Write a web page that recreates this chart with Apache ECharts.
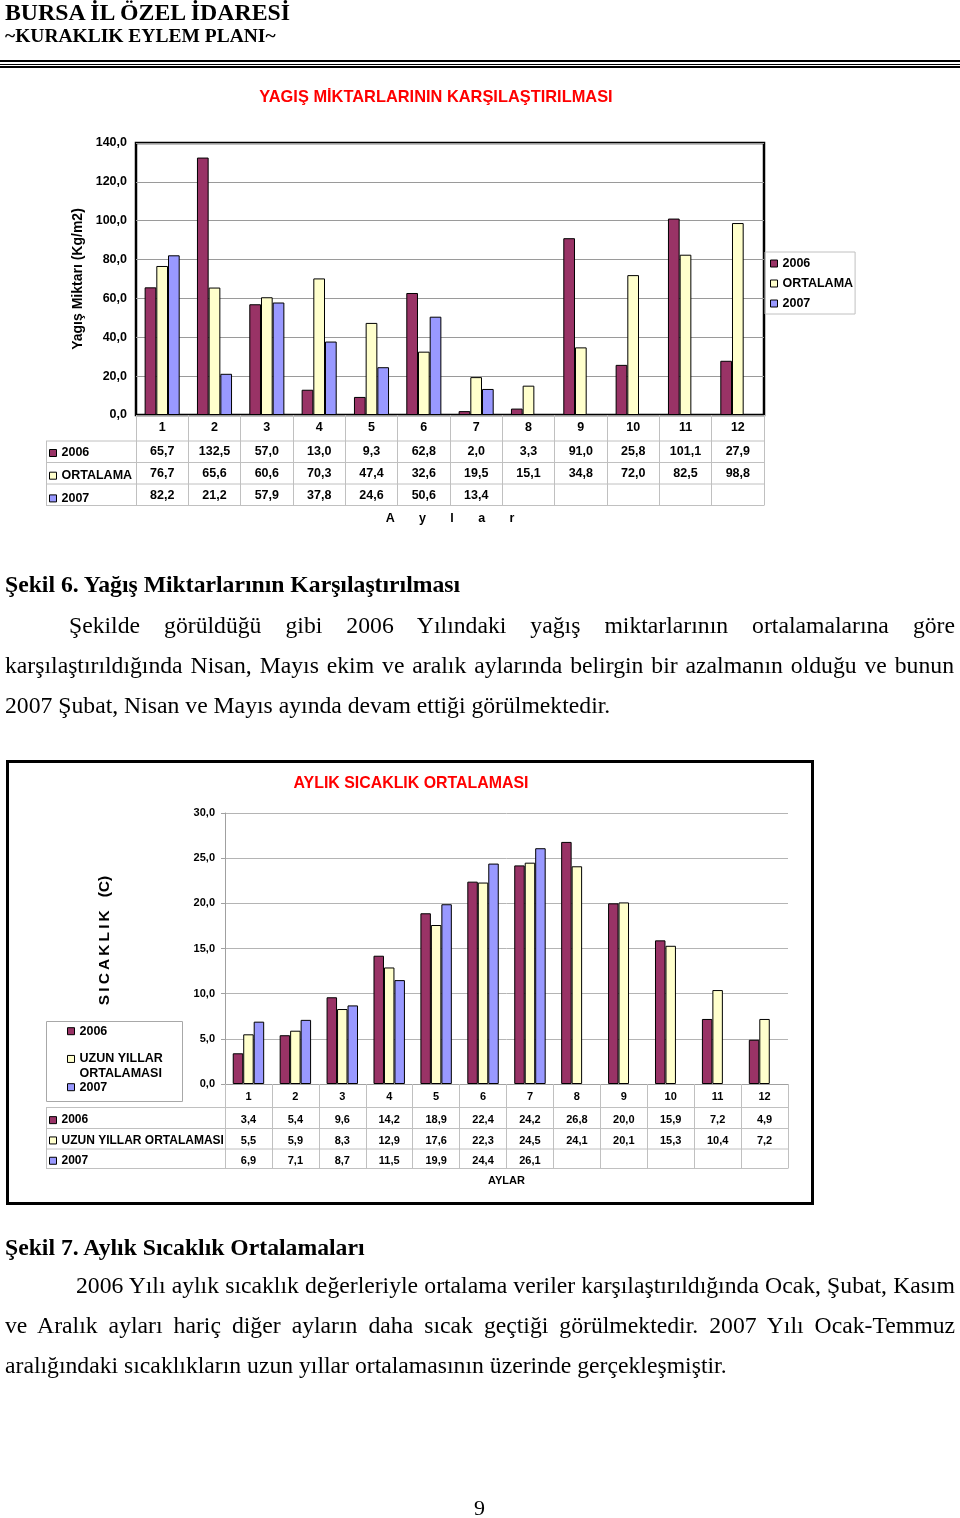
<!DOCTYPE html>
<html>
<head>
<meta charset="utf-8">
<script src="https://cdn.jsdelivr.net/npm/echarts@6/dist/echarts.min.js"></script>
<style>
html,body{margin:0;padding:0;background:#fff;}
#page{position:relative;width:960px;height:1518px;overflow:hidden;background:#fff;}
#chart{position:absolute;left:0;top:0;width:960px;height:1518px;}
.t{position:absolute;white-space:nowrap;font-family:"Liberation Serif","Times New Roman",serif;color:#000;line-height:1;}
.b{font-weight:bold;}
.j{text-align:justify;text-align-last:justify;}
.p{font-size:23.7px;}
.rule{position:absolute;left:0;width:960px;background:#000;}
</style>
</head>
<body>
<div id="page">
  <div id="chart"></div>
  <div class="t b" style="left:5px;top:0.8px;font-size:23.8px;">BURSA İL ÖZEL İDARESİ</div>
  <div class="t b" style="left:5px;top:26.4px;font-size:19.5px;">~KURAKLIK EYLEM PLANI~</div>
  <div class="rule" style="top:60px;height:2px;"></div>
  <div class="rule" style="top:63.5px;height:1px;"></div>
  <div class="rule" style="top:66px;height:2px;"></div>

  <div class="t b p" style="left:5px;top:573.4px;">Şekil 6. Yağış Miktarlarının Karşılaştırılması</div>
  <div class="t j p" style="left:69px;width:886px;top:614.2px;">Şekilde görüldüğü gibi 2006 Yılındaki yağış miktarlarının ortalamalarına göre</div>
  <div class="t j p" style="left:5px;width:949px;top:654.2px;">karşılaştırıldığında Nisan, Mayıs ekim ve aralık aylarında belirgin bir azalmanın olduğu ve bunun</div>
  <div class="t p" style="left:5px;top:693.7px;">2007 Şubat, Nisan ve Mayıs ayında devam ettiği görülmektedir.</div>

  <div class="t b p" style="left:5px;top:1235.9px;">Şekil 7. Aylık Sıcaklık Ortalamaları</div>
  <div class="t j p" style="left:76px;width:879px;top:1273.5px;">2006 Yılı aylık sıcaklık değerleriyle ortalama veriler karşılaştırıldığında Ocak, Şubat, Kasım</div>
  <div class="t j p" style="left:5px;width:950px;top:1314.2px;">ve Aralık ayları hariç diğer ayların daha sıcak geçtiği görülmektedir. 2007 Yılı Ocak-Temmuz</div>
  <div class="t p" style="left:5px;top:1354.2px;">aralığındaki sıcaklıkların uzun yıllar ortalamasının üzerinde gerçekleşmiştir.</div>

  <div class="t" style="left:474px;top:1497px;font-size:22px;">9</div>
</div>
<script>
// ---------- DATA ----------
const months = ['1','2','3','4','5','6','7','8','9','10','11','12'];

const rainNames = ['2006', 'ORTALAMA', '2007'];
const rain2006 = [65.7, 132.5, 57.0, 13.0, 9.3, 62.8, 2.0, 3.3, 91.0, 25.8, 101.1, 27.9];
const rainAvg  = [76.7, 65.6, 60.6, 70.3, 47.4, 32.6, 19.5, 15.1, 34.8, 72.0, 82.5, 98.8];
const rain2007 = [82.2, 21.2, 57.9, 37.8, 24.6, 50.6, 13.4, null, null, null, null, null];
const rainTicks = [0, 20, 40, 60, 80, 100, 120, 140];

const tempNames = ['2006 ', 'UZUN YILLAR ORTALAMASI', '2007 '];
const temp2006 = [3.4, 5.4, 9.6, 14.2, 18.9, 22.4, 24.2, 26.8, 20.0, 15.9, 7.2, 4.9];
const tempAvg  = [5.5, 5.9, 8.3, 12.9, 17.6, 22.3, 24.5, 24.1, 20.1, 15.3, 10.4, 7.2];
const temp2007 = [6.9, 7.1, 8.7, 11.5, 19.9, 24.4, 26.1, null, null, null, null, null];
const tempTicks = [0, 5, 10, 15, 20, 25, 30];

// ---------- LAYOUT / STYLE ----------
const SANS = '"Liberation Sans", Arial, Helvetica, sans-serif';
const C2006 = '#993366', CAVG = '#FFFFCC', C2007 = '#9999FF';
const G1 = {left: 136, top: 143, width: 628, height: 272};
const G2 = {left: 225, top: 813, width: 563, height: 271};
const T1 = {x0: 46, rows: [441, 462.5, 484, 505.5]};
const T2 = {x0: 46, rows: [1107.5, 1128.5, 1149, 1168.5]};

const fmt = v => (v == null ? ' ' : v.toFixed(1).replace('.', ','));

function tableFormatter(a, b, c) {
  return (v, i) => `{h|${v}}\n{v|${fmt(a[i])}}\n{v|${fmt(b[i])}}\n{v|${fmt(c[i])}}`;
}
function txt(size, extra) {
  return Object.assign({fontFamily: SANS, fontWeight: 'bold', fontSize: size, color: '#000'}, extra || {});
}
function bar(name, data, color, idx) {
  return {
    type: 'bar', name, data, xAxisIndex: idx, yAxisIndex: idx,
    barGap: '0%', barCategoryGap: '33%',
    itemStyle: {color, borderColor: '#000', borderWidth: 1},
    emphasis: {disabled: true}
  };
}
function tableLines(T, G) {
  const x2 = G.left + G.width;
  const out = T.rows.map(y => ({
    type: 'line', silent: true,
    shape: {x1: T.x0, y1: y, x2: x2, y2: y},
    style: {stroke: '#c0c0c0', lineWidth: 1}
  }));
  out.push({type: 'line', silent: true,
    shape: {x1: T.x0 + 0.5, y1: T.rows[0], x2: T.x0 + 0.5, y2: T.rows[T.rows.length - 1]},
    style: {stroke: '#c0c0c0', lineWidth: 1}});
  return out;
}
const legendBase = {
  orient: 'vertical', padding: 0, itemWidth: 7, itemHeight: 7, icon: 'rect',
  selectedMode: false, itemStyle: {borderColor: '#000', borderWidth: 1}
};

const chart = echarts.init(document.getElementById('chart'), null, {renderer: 'canvas', width: 960, height: 1518});

const option = {
  animation: false,
  backgroundColor: 'transparent',
  textStyle: {fontFamily: SANS},
  title: [
    {text: 'YAGIŞ MİKTARLARININ KARŞILAŞTIRILMASI', left: 436, top: 89.5, textAlign: 'center', padding: 0,
     textStyle: txt(16.4, {color: '#ff0000'})},
    {text: 'AYLIK SICAKLIK ORTALAMASI', left: 411, top: 776, textAlign: 'center', padding: 0,
     textStyle: txt(15.9, {color: '#ff0000'})}
  ],
  grid: [
    Object.assign({show: true, borderColor: '#000', borderWidth: 2.5, backgroundColor: 'transparent',
                   containLabel: false, outerBoundsMode: 'none'}, G1),
    Object.assign({show: false, containLabel: false, outerBoundsMode: 'none'}, G2)
  ],
  legend: [
    Object.assign({}, legendBase, {id: 'l1', data: rainNames, left: 765, top: 252, padding: [5, 2, 4, 5],
      itemGap: 7, borderColor: '#c0c0c0', borderWidth: 1, textStyle: txt(12.5, {lineHeight: 12.2})}),
    Object.assign({}, legendBase, {id: 't1', data: rainNames, left: 49, top: 446.5, itemGap: 9.7,
      textStyle: txt(12.5, {lineHeight: 12})}),
    Object.assign({}, legendBase, {id: 'l2a', data: [tempNames[0]], left: 67, top: 1024.7,
      textStyle: txt(12.5, {lineHeight: 12})}),
    Object.assign({}, legendBase, {id: 'l2b', data: [tempNames[1]], left: 67, top: 1037.5,
      formatter: n => ' \n' + n.replace(' ORT', '\nORT'),
      textStyle: txt(12.5, {lineHeight: 14.3})}),
    Object.assign({}, legendBase, {id: 'l2c', data: [tempNames[2]], left: 67, top: 1080.7,
      textStyle: txt(12.5, {lineHeight: 12})}),
    Object.assign({}, legendBase, {id: 't2', data: tempNames, left: 49, top: 1114.15, itemGap: 8.3,
      textStyle: txt(12, {lineHeight: 12})})
  ],
  xAxis: [
    {
      type: 'category', gridIndex: 0, data: months,
      axisLine: {show: false},
      axisTick: {show: true, length: T1.rows[3] - (G1.top + G1.height), lineStyle: {color: '#c0c0c0', width: 1}},
      axisLabel: {interval: 0, margin: 0, formatter: tableFormatter(rain2006, rainAvg, rain2007),
        rich: {h: txt(12.5, {lineHeight: 26}), v: txt(12.5, {lineHeight: 21.7})}},
      splitLine: {show: false},
      name: 'A       y       l       a       r', nameLocation: 'middle', nameGap: 97,
      nameTextStyle: txt(12.5)
    },
    {
      type: 'category', gridIndex: 1, data: months,
      axisLine: {show: true, lineStyle: {color: '#a0a0a0', width: 1}},
      axisTick: {show: true, length: T2.rows[3] - (G2.top + G2.height), lineStyle: {color: '#c0c0c0', width: 1}},
      axisLabel: {interval: 0, margin: 0, formatter: tableFormatter(temp2006, tempAvg, temp2007),
        rich: {h: txt(11, {lineHeight: 26}), v: txt(11, {lineHeight: 20.5})}},
      splitLine: {show: false},
      name: 'AYLAR', nameLocation: 'middle', nameGap: 91, nameTextStyle: txt(11)
    }
  ],
  yAxis: [
    {
      type: 'value', gridIndex: 0, min: rainTicks[0], max: rainTicks[rainTicks.length - 1],
      interval: rainTicks[1] - rainTicks[0],
      axisLine: {show: false}, axisTick: {show: false},
      splitLine: {show: true, lineStyle: {color: '#9a9a9a', width: 1}},
      axisLabel: {margin: 9, formatter: v => fmt(v), ...txt(12.5)},
      name: 'Yagış Miktarı (Kg/m2)', nameLocation: 'middle', nameRotate: 90, nameGap: 50,
      nameTextStyle: txt(14)
    },
    {
      type: 'value', gridIndex: 1, min: tempTicks[0], max: tempTicks[tempTicks.length - 1],
      interval: tempTicks[1] - tempTicks[0],
      axisLine: {show: true, lineStyle: {color: '#a0a0a0', width: 1}},
      axisTick: {show: true, length: 4, lineStyle: {color: '#a0a0a0'}},
      splitLine: {show: true, lineStyle: {color: '#b4b4b4', width: 1}},
      axisLabel: {margin: 10, formatter: v => fmt(v), ...txt(11)},
      name: 'S\u2009I\u2009C\u2009A\u2009K\u2009L\u2009I\u2009K   (C)', nameLocation: 'middle', nameRotate: 90,
      nameGap: 112, nameTextStyle: txt(15.5, {padding: [0, 0, 0, 16]})
    }
  ],
  series: [
    bar(rainNames[0], rain2006, C2006, 0),
    bar(rainNames[1], rainAvg, CAVG, 0),
    bar(rainNames[2], rain2007, C2007, 0),
    bar(tempNames[0], temp2006, C2006, 1),
    bar(tempNames[1], tempAvg, CAVG, 1),
    bar(tempNames[2], temp2007, C2007, 1)
  ],
  graphic: [].concat(
    tableLines(T1, G1),
    tableLines(T2, G2),
    [
      {type: 'rect', silent: true, shape: {x: 46.5, y: 1021.5, width: 136, height: 80},
       style: {fill: 'none', stroke: '#a8a8a8', lineWidth: 1}},
      {type: 'rect', silent: true, shape: {x: 7.5, y: 761.5, width: 805, height: 442},
       style: {fill: 'none', stroke: '#000', lineWidth: 3}}
    ]
  )
};
chart.setOption(option);
</script>
</body>
</html>
